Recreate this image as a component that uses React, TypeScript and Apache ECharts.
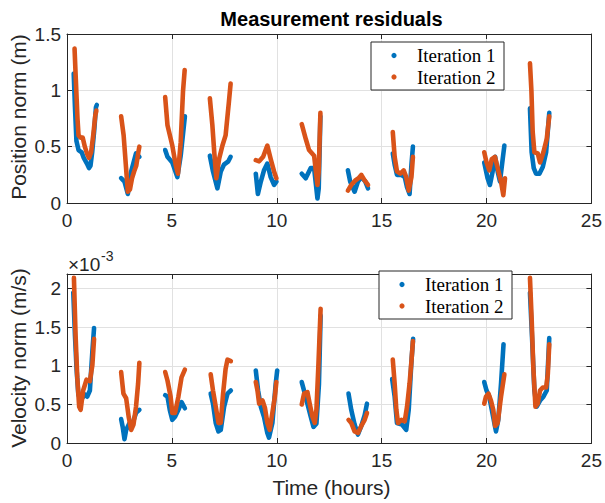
import React, { useEffect, useRef } from "react";
import * as echarts from "echarts";

type Pt = [number, number];

// Time axis ticks (hours)
const timeTicks = [0, 5, 10, 15, 20, 25];
const posTicks = [0, 0.5, 1, 1.5];
const velTicks = [0, 0.5, 1, 1.5, 2];

// Position norm (m) — Iteration 1, one array per tracking pass
const posIter1: Pt[][] = [
  [[0.32, 1.15], [0.38, 0.85], [0.45, 0.55], [0.55, 0.47], [0.7, 0.45], [0.8, 0.4], [0.95, 0.35], [1.05, 0.31], [1.12, 0.33], [1.2, 0.45], [1.3, 0.65], [1.38, 0.85], [1.42, 0.87]],
  [[2.58, 0.22], [2.74, 0.19], [2.9, 0.08], [3.06, 0.28], [3.29, 0.44], [3.45, 0.41]],
  [[4.68, 0.47], [4.79, 0.41], [5.02, 0.36], [5.26, 0.23], [5.42, 0.42], [5.62, 0.77]],
  [[6.81, 0.42], [6.96, 0.28], [7.17, 0.13], [7.33, 0.28], [7.48, 0.34], [7.69, 0.37], [7.8, 0.41]],
  [[9.0, 0.26], [9.1, 0.08], [9.24, 0.19], [9.39, 0.29], [9.55, 0.35], [9.71, 0.23], [9.87, 0.16], [9.98, 0.19]],
  [[11.19, 0.26], [11.38, 0.22], [11.62, 0.31], [11.78, 0.31], [11.94, 0.04], [12.0, 0.13], [12.08, 0.77]],
  [[13.39, 0.29], [13.5, 0.19], [13.71, 0.1], [13.87, 0.19], [14.03, 0.23], [14.22, 0.19], [14.35, 0.13]],
  [[15.53, 0.44], [15.62, 0.34], [15.73, 0.25], [15.94, 0.25], [16.1, 0.23], [16.21, 0.14], [16.33, 0.08], [16.42, 0.34], [16.49, 0.5]],
  [[19.89, 0.36], [20.05, 0.22], [20.16, 0.16], [20.29, 0.28], [20.41, 0.41], [20.53, 0.28], [20.64, 0.19], [20.77, 0.39], [20.85, 0.51]],
  [[22.07, 0.84], [22.15, 0.45], [22.25, 0.31], [22.36, 0.26], [22.52, 0.26], [22.68, 0.32], [22.84, 0.45], [22.99, 0.8]],
];

// Position norm (m) — Iteration 2
const posIter2: Pt[][] = [
  [[0.36, 1.37], [0.42, 1.1], [0.5, 0.75], [0.55, 0.6], [0.65, 0.58], [0.75, 0.58], [0.85, 0.5], [0.95, 0.44], [1.05, 0.4], [1.15, 0.45], [1.25, 0.6], [1.35, 0.78], [1.4, 0.82]],
  [[2.58, 0.77], [2.7, 0.6], [2.8, 0.35], [2.9, 0.1], [3.0, 0.12], [3.1, 0.22], [3.2, 0.28], [3.3, 0.33], [3.4, 0.45], [3.45, 0.5]],
  [[4.68, 0.94], [4.79, 0.69], [5.02, 0.51], [5.18, 0.34], [5.29, 0.26], [5.42, 0.54], [5.53, 0.99], [5.61, 1.18]],
  [[6.81, 0.93], [6.93, 0.69], [7.02, 0.45], [7.12, 0.22], [7.25, 0.39], [7.41, 0.51], [7.56, 0.6], [7.72, 0.9], [7.8, 1.06]],
  [[9.0, 0.38], [9.16, 0.37], [9.35, 0.41], [9.55, 0.51], [9.71, 0.39], [9.87, 0.28], [9.98, 0.22]],
  [[11.19, 0.7], [11.38, 0.57], [11.54, 0.47], [11.78, 0.42], [11.94, 0.16], [12.0, 0.28], [12.08, 0.8]],
  [[13.39, 0.11], [13.55, 0.16], [13.74, 0.2], [13.9, 0.22], [14.03, 0.25], [14.19, 0.2], [14.35, 0.16]],
  [[15.53, 0.63], [15.62, 0.41], [15.73, 0.28], [15.89, 0.26], [16.05, 0.29], [16.17, 0.23], [16.29, 0.11], [16.42, 0.23], [16.49, 0.41]],
  [[19.89, 0.45], [20.0, 0.36], [20.13, 0.29], [20.25, 0.39], [20.4, 0.41], [20.53, 0.31], [20.69, 0.19], [20.8, 0.07], [20.88, 0.22]],
  [[22.07, 1.24], [22.14, 0.99], [22.2, 0.63], [22.28, 0.45], [22.44, 0.44], [22.55, 0.36], [22.71, 0.45], [22.87, 0.57], [22.99, 0.77]],
];

// Velocity norm (×10^-3 m/s) — Iteration 1
const velIter1: Pt[][] = [
  [[0.3, 1.95], [0.38, 1.39], [0.46, 0.94], [0.54, 0.63], [0.65, 0.55], [0.85, 0.63], [0.96, 0.6], [1.09, 0.68], [1.21, 1.19], [1.29, 1.49]],
  [[2.58, 0.31], [2.66, 0.2], [2.74, 0.05], [2.82, 0.17], [2.98, 0.26], [3.13, 0.26], [3.29, 0.39], [3.45, 0.43]],
  [[4.68, 0.62], [4.79, 0.6], [4.9, 0.43], [5.02, 0.3], [5.15, 0.34], [5.31, 0.43], [5.46, 0.53], [5.62, 0.45]],
  [[6.85, 0.64], [6.96, 0.51], [7.09, 0.26], [7.22, 0.15], [7.33, 0.17], [7.49, 0.47], [7.65, 0.64], [7.81, 0.68]],
  [[9.0, 0.94], [9.11, 0.68], [9.24, 0.47], [9.39, 0.34], [9.55, 0.13], [9.63, 0.07], [9.79, 0.26], [9.95, 0.77], [10.02, 0.94]],
  [[11.19, 0.79], [11.3, 0.68], [11.46, 0.51], [11.62, 0.34], [11.75, 0.21], [11.89, 0.25], [12.01, 0.76], [12.09, 1.65]],
  [[13.42, 0.64], [13.55, 0.43], [13.71, 0.24], [13.87, 0.11], [14.03, 0.22], [14.19, 0.36], [14.3, 0.51]],
  [[15.5, 0.83], [15.62, 0.6], [15.73, 0.26], [15.97, 0.24], [16.17, 0.17], [16.29, 0.43], [16.42, 1.06], [16.5, 1.35]],
  [[19.89, 0.79], [20.0, 0.68], [20.13, 0.6], [20.25, 0.43], [20.37, 0.26], [20.45, 0.15], [20.56, 0.3], [20.69, 0.77], [20.81, 1.28]],
  [[22.07, 1.95], [22.17, 1.36], [22.28, 0.68], [22.39, 0.47], [22.55, 0.55], [22.71, 0.6], [22.87, 0.68], [22.99, 1.36]],
];

// Velocity norm (×10^-3 m/s) — Iteration 2
const velIter2: Pt[][] = [
  [[0.33, 2.14], [0.41, 1.39], [0.49, 0.85], [0.58, 0.47], [0.65, 0.43], [0.77, 0.68], [0.93, 0.82], [1.09, 0.8], [1.21, 1.01], [1.29, 1.35]],
  [[2.58, 0.92], [2.69, 0.64], [2.82, 0.58], [2.94, 0.34], [3.06, 0.17], [3.17, 0.24], [3.29, 0.47], [3.39, 0.77], [3.45, 1.04]],
  [[4.68, 0.92], [4.79, 0.81], [4.94, 0.6], [5.02, 0.39], [5.15, 0.39], [5.31, 0.6], [5.46, 0.85], [5.62, 0.95]],
  [[6.85, 0.89], [6.96, 0.68], [7.09, 0.47], [7.22, 0.26], [7.33, 0.26], [7.44, 0.64], [7.56, 0.96], [7.65, 1.08], [7.81, 1.06]],
  [[9.0, 0.79], [9.08, 0.68], [9.16, 0.51], [9.32, 0.55], [9.44, 0.45], [9.55, 0.26], [9.66, 0.17], [9.79, 0.39], [9.91, 0.6], [9.98, 0.79]],
  [[11.19, 0.5], [11.3, 0.64], [11.46, 0.66], [11.57, 0.51], [11.7, 0.34], [11.81, 0.26], [11.89, 0.43], [11.98, 0.98], [12.09, 1.74]],
  [[13.42, 0.3], [13.55, 0.26], [13.71, 0.15], [13.87, 0.13], [14.03, 0.22], [14.19, 0.3], [14.3, 0.39]],
  [[15.53, 1.08], [15.62, 0.77], [15.7, 0.43], [15.78, 0.26], [15.94, 0.3], [16.1, 0.28], [16.21, 0.47], [16.33, 0.77], [16.42, 1.06], [16.49, 1.32]],
  [[19.89, 0.51], [19.97, 0.6], [20.09, 0.64], [20.21, 0.55], [20.32, 0.43], [20.41, 0.22], [20.53, 0.26], [20.69, 0.6], [20.85, 0.89]],
  [[22.07, 2.14], [22.15, 1.61], [22.23, 0.98], [22.33, 0.47], [22.44, 0.51], [22.55, 0.68], [22.68, 0.72], [22.84, 0.72], [22.92, 0.89], [22.99, 1.28]],
];

const seriesNames = ["Iteration 1", "Iteration 2"];
const titleText = "Measurement residuals";

const BLUE = "#0072BD";
const ORANGE = "#D95319";
const AXIS = "#262626";
const GRID = "#e1e1e1";
const SANS = "'Liberation Sans', Arial, Helvetica, sans-serif";
const SERIF = "'Liberation Serif', 'Times New Roman', serif";

function arcSeries(name: string, arcs: Pt[][], color: string, gi: number, z: number) {
  return arcs.map((arc) => ({
    type: "line",
    name,
    data: arc,
    xAxisIndex: gi * 2,
    yAxisIndex: gi * 2,
    symbol: "none",
    showSymbol: false,
    silent: true,
    z,
    lineStyle: { width: 4.6, color, cap: "round", join: "round" },
  }));
}

function xAxes(gi: number) {
  const common = {
    type: "value",
    gridIndex: gi,
    min: timeTicks[0],
    max: timeTicks[timeTicks.length - 1],
    interval: timeTicks[1] - timeTicks[0],
    axisLine: { show: true, onZero: false, lineStyle: { color: AXIS, width: 1 } },
    axisTick: { show: true, inside: true, length: 5, lineStyle: { color: AXIS } },
  };
  return [
    {
      ...common,
      position: "bottom",
      axisLabel: { show: true, color: AXIS, fontFamily: SANS, fontSize: 19, margin: 8 },
      splitLine: { show: true, lineStyle: { color: GRID, width: 1 } },
    },
    {
      ...common,
      position: "top",
      axisLabel: { show: false },
      splitLine: { show: false },
    },
  ];
}

function yAxes(gi: number, ticks: number[], max: number) {
  const common = {
    type: "value",
    gridIndex: gi,
    min: ticks[0],
    max,
    interval: ticks[1] - ticks[0],
    axisLine: { show: true, onZero: false, lineStyle: { color: AXIS, width: 1 } },
    axisTick: { show: true, inside: true, length: 5, lineStyle: { color: AXIS } },
  };
  return [
    {
      ...common,
      position: "left",
      axisLabel: {
        show: true,
        color: AXIS,
        fontFamily: SANS,
        fontSize: 19,
        margin: 6,
        formatter: (v: number) => (ticks.some((t) => Math.abs(t - v) < 1e-9) ? String(v) : ""),
      },
      splitLine: { show: true, lineStyle: { color: GRID, width: 1 } },
    },
    {
      ...common,
      position: "right",
      axisLabel: { show: false },
      splitLine: { show: false },
    },
  ];
}

function legendGraphic(x: number, y: number) {
  const Z = 100;
  return {
    type: "group",
    x,
    y,
    z: Z,
    children: [
      { type: "rect", z: Z, shape: { x: 0, y: 0, width: 133, height: 48 }, style: { fill: "#fff", stroke: AXIS, lineWidth: 1 } },
      { type: "circle", z: Z + 1, shape: { cx: 23, cy: 13.5, r: 2.6 }, style: { fill: BLUE } },
      { type: "circle", z: Z + 1, shape: { cx: 23, cy: 35, r: 2.6 }, style: { fill: ORANGE } },
      { type: "text", z: Z + 1, x: 46, y: 13.5, style: { text: seriesNames[0], fill: "#000", font: `19px ${SERIF}`, textVerticalAlign: "middle" } },
      { type: "text", z: Z + 1, x: 46, y: 35, style: { text: seriesNames[1], fill: "#000", font: `19px ${SERIF}`, textVerticalAlign: "middle" } },
    ],
  };
}

export default function App() {
  const ref = useRef<HTMLDivElement>(null);
  useEffect(() => {
    if (!ref.current) return;
    const chart = echarts.init(ref.current, undefined, { renderer: "svg" });
    const option = {
      animation: false,
      backgroundColor: "#fff",
      grid: [
        { left: 67, top: 34, width: 529, height: 169 },
        { left: 67, top: 274, width: 529, height: 169 },
      ],
      xAxis: [...xAxes(0), ...xAxes(1)],
      yAxis: [...yAxes(0, posTicks, 1.5), ...yAxes(1, velTicks, 2.19)],
      series: [
        ...arcSeries(seriesNames[0], posIter1, BLUE, 0, 2),
        ...arcSeries(seriesNames[1], posIter2, ORANGE, 0, 3),
        ...arcSeries(seriesNames[0], velIter1, BLUE, 1, 2),
        ...arcSeries(seriesNames[1], velIter2, ORANGE, 1, 3),
      ],
      graphic: [
        { type: "text", x: 331.5, y: 19, style: { text: titleText, fill: "#000", font: `bold 20px ${SANS}`, textAlign: "center", textVerticalAlign: "middle" } },
        { type: "text", x: 18, y: 117, rotation: Math.PI / 2, style: { text: "Position norm (m)", fill: AXIS, font: `21px ${SANS}`, textAlign: "center", textVerticalAlign: "middle" } },
        { type: "text", x: 18, y: 358, rotation: Math.PI / 2, style: { text: "Velocity norm (m/s)", fill: AXIS, font: `21px ${SANS}`, textAlign: "center", textVerticalAlign: "middle" } },
        { type: "text", x: 331.5, y: 487, style: { text: "Time (hours)", fill: AXIS, font: `21px ${SANS}`, textAlign: "center", textVerticalAlign: "middle" } },
        { type: "text", x: 68, y: 264, style: { text: "×10", fill: AXIS, font: `19px ${SANS}`, textVerticalAlign: "middle" } },
        { type: "text", x: 101, y: 256, style: { text: "-3", fill: AXIS, font: `14px ${SANS}`, textVerticalAlign: "middle" } },
        legendGraphic(371, 42),
        legendGraphic(379, 271),
      ],
    };
    chart.setOption(option as any);
    return () => chart.dispose();
  }, []);
  return <div ref={ref} style={{ width: 605, height: 503, position: "absolute", left: 0, top: 0 }} />;
}
